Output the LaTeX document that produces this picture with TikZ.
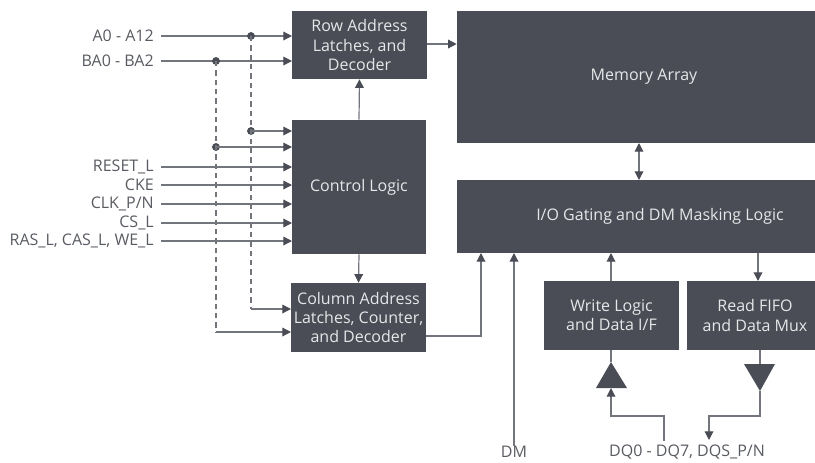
\documentclass[tikz,border=0pt]{standalone}
\usepackage{fontspec}
\setmainfont{Open Sans}
\usetikzlibrary{arrows.meta}

\definecolor{blkgray}{HTML}{4A4D55}
\definecolor{wiregray}{HTML}{72757C}
\definecolor{labelgray}{HTML}{585B61}
\definecolor{blktext}{HTML}{E6E7E9}

\tikzset{
    blk/.style={fill=blkgray, draw=none, text=blktext, align=center, inner sep=0pt,
        font=\fontsize{12}{14.3}\selectfont},
    pin/.style={text=labelgray, inner sep=0pt, font=\fontsize{12}{14.3}\selectfont},
    wire/.style={draw=wiregray, line width=0.9pt},
    arr/.style={wire, -{Triangle[length=6.5pt,width=6.5pt,color=blkgray]}},
    biarr/.style={wire, {Triangle[length=6.5pt,width=6.5pt,color=blkgray]}-{Triangle[length=6.5pt,width=6.5pt,color=blkgray]}},
    tap/.style={wire, dash pattern=on 4pt off 3pt}
}

\begin{document}
\begin{tikzpicture}[x=0.75pt,y=-0.75pt]
            \useasboundingbox (0,0) rectangle (815,462);

            \node[blk, minimum width=101.25pt, minimum height=51pt] (row) at (359.5,45) {Row Address\\Latches, and\\Decoder};
            \node[blk, minimum width=100.5pt, minimum height=100.5pt] (ctrl) at (359,187) {Control Logic};
            \node[blk, minimum width=101.25pt, minimum height=51.75pt] (col) at (358.5,317.5) {Column Address\\Latches, Counter,\\and Decoder};
            \node[blk, minimum width=280.5pt, minimum height=99pt] (mem) at (644,77) {Memory Array};
            \node[blk, minimum width=304.5pt, minimum height=54.75pt] (io) at (660,216.5) {I/O Gating and DM Masking Logic};
            \node[blk, minimum width=101.25pt, minimum height=51.75pt] (wr) at (611.5,315.5) {Write Logic\\and Data I/F};
            \node[blk, minimum width=102pt, minimum height=51.75pt] (rd) at (755,315.5) {Read FIFO\\and Data Mux};

            \fill[blkgray] (596,388) -- (611,362) -- (627,388) -- cycle;
            \fill[blkgray] (744,364) -- (775,364) -- (760,391) -- cycle;
            \coordinate (wtop) at (611,362);
            \coordinate (wbot) at (611,388);
            \coordinate (rtop) at (760,364);
            \coordinate (rbot) at (760,391);

            \node[pin, anchor=east] (a) at (154,36) {A0 - A12};
            \node[pin, anchor=east] (ba) at (154,61) {BA0 - BA2};
            \node[pin, anchor=east] (rst) at (154,167) {RESET\_L};
            \node[pin, anchor=east] (cke) at (154,185) {CKE};
            \node[pin, anchor=east] (clk) at (154,204) {CLK\_P/N};
            \node[pin, anchor=east] (cs) at (154,223) {CS\_L};
            \node[pin, anchor=east] (ras) at (154,241) {RAS\_L, CAS\_L, WE\_L};
            \node[pin] (dm) at (514,452) {DM};
            \node[pin] (dq) at (687,452) {DQ0 - DQ7, DQS\_P/N};

            \draw[arr] (161,36) -- (292,36);
            \draw[arr] (161,61) -- (292,61);
            \draw[arr] (161,167) -- (292,167);
            \draw[arr] (161,185) -- (292,185);
            \draw[arr] (161,204) -- (292,204);
            \draw[arr] (161,223) -- (292,223);
            \draw[arr] (161,241) -- (292,241);

            \coordinate (ta) at (251,36);
            \coordinate (tb) at (216,61);
            \filldraw[blkgray] (ta) circle (2.7pt);
            \filldraw[blkgray] (tb) circle (2.7pt);
            \filldraw[blkgray] (251,131) circle (2.7pt);
            \filldraw[blkgray] (216,147) circle (2.7pt);
            \draw[arr] (251,131) -- (292,131);
            \draw[arr] (216,147) -- (292,147);
            \draw[tap] (ta) -- (251,309);
            \draw[tap] (tb) -- (216,332);
            \draw[arr] (251,309) -- (291,309);
            \draw[arr] (216,332) -- (291,332);

            \draw[arr] (427,44) -- (mem.west |- 0,44);
            \draw[arr] (ctrl.north) -- (row.south);
            \draw[arr] (ctrl.south) -- (col.north);
            \draw[arr] (col.east |- 0,336) -- (481,336) -- (481,253);
            \draw[arr] (dm.north) -- (514,253);
            \draw[biarr] (639,143) -- (639,180);
            \draw[arr] (758,253) -- (758,281);
            \draw[arr] (611,281) -- (611,253);
            \draw[wire] (611,350) -- (wtop);
            \draw[wire] (760,350) -- (rtop);
            \draw[arr] (664,441) |- (611,416) -- (wbot);
            \draw[arr] (rbot) -- (760,416) -| (709,440);
\end{tikzpicture}
\end{document}
